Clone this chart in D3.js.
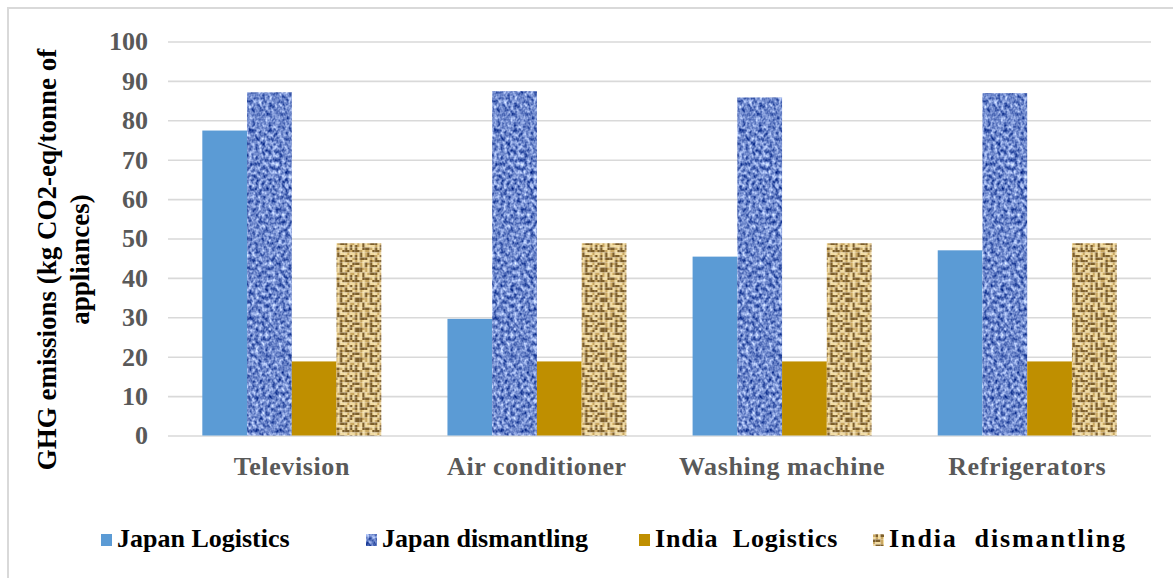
<!DOCTYPE html>
<html>
<head>
<meta charset="utf-8">
<script src="https://cdn.jsdelivr.net/npm/d3@7/dist/d3.min.js"></script>
<style>
  html, body { margin: 0; padding: 0; background: #fff; }
  svg { display: block; }
  svg text { font-family: 'Liberation Serif', 'Times New Roman', Times, serif; font-weight: bold; }
</style>
</head>
<body>
<svg id="chart" width="1173" height="578"></svg>
<script>
// GHG emissions per tonne of appliances, by appliance and stage
const categories = ["Television", "Air conditioner", "Washing machine", "Refrigerators"];
const seriesNames = ["Japan Logistics", "Japan dismantling", "India  Logistics", "India  dismantling"];
const japanLogistics   = [77.4, 29.6, 45.4, 47.0];
const japanDismantling = [87.1, 87.4, 85.8, 86.9];
const indiaLogistics   = [18.8, 18.8, 18.8, 18.8];
const indiaDismantling = [48.8, 48.8, 48.8, 48.8];
const yTicks = [0, 10, 20, 30, 40, 50, 60, 70, 80, 90, 100];
const yTitleLines = ["GHG emissions (kg CO2-eq/tonne of", "appliances)"];

const seriesValues = [japanLogistics, japanDismantling, indiaLogistics, indiaDismantling];
const rows = categories.map((c, i) => ({
  category: c,
  values: seriesNames.map((s, k) => ({ key: s, value: seriesValues[k][i] }))
}));

const svg = d3.select("#chart");
const W = 1173, H = 578;
const plot = { left: 168, right: 1151, top: 41.5, bottom: 435.5 };
const FONT = "'Liberation Serif', 'Times New Roman', Times, serif";

// outer chart frame
svg.append("rect")
  .attr("x", 8).attr("y", 8).attr("width", W + 20).attr("height", H + 20)
  .attr("fill", "#fff").attr("stroke", "#d9d9d9").attr("stroke-width", 2);

// ---- textures ----
const defs = svg.append("defs");

// mottled blue cloth: fractal noise mapped onto a dark-to-light blue ramp
const cloth = defs.append("filter").attr("id", "blueCloth")
  .attr("x", 0).attr("y", 0).attr("width", 1).attr("height", 1)
  .attr("color-interpolation-filters", "sRGB");
cloth.append("feTurbulence")
  .attr("type", "fractalNoise").attr("baseFrequency", "0.30 0.24")
  .attr("numOctaves", 2).attr("seed", 7).attr("result", "noise");
cloth.append("feColorMatrix").attr("in", "noise").attr("type", "matrix")
  .attr("values", [
    "1.25 0 0 0 -0.19",
    "1.15 0 0 0 -0.04",
    "0.80 0 0 0 0.40",
    "0 0 0 0 1"
  ].join(" ")).attr("result", "tone");
cloth.append("feGaussianBlur").attr("in", "tone").attr("stdDeviation", 0.45).attr("result", "soft");
cloth.append("feComposite").attr("in", "soft").attr("in2", "SourceGraphic").attr("operator", "in");

// burlap weave tile
function tilePattern(id, rowsStr, palette, cell) {
  const n = rowsStr.length, m = rowsStr[0].length;
  const p = defs.append("pattern")
    .attr("id", id).attr("patternUnits", "userSpaceOnUse")
    .attr("width", m * cell).attr("height", n * cell);
  rowsStr.forEach((r, yi) => {
    [...r].forEach((ch, xi) => {
      p.append("rect")
        .attr("x", xi * cell).attr("y", yi * cell)
        .attr("width", cell).attr("height", cell)
        .attr("fill", palette[ch]);
    });
  });
}
tilePattern("idTex", [
  "cbbbctcbctbc",
  "tctcbctbbbct",
  "cbtcbcccctcb",
  "cbccbbbtcbcb",
  "bbbtcttcbbbt",
  "ctcbctbccctc",
  "cbcbctbbbtcb",
  "tbcbbbctcbcc",
  "ctctcccbtbbb",
  "bbbtcbtbcctc",
  "tcctcbcbbbcb",
  "cbbbttcbcctb"
], { b: "#7d5e2c", t: "#caa862", c: "#f2dca2" }, 2.5);
defs.append("filter").attr("id", "soft")
  .append("feGaussianBlur").attr("stdDeviation", 0.6);

const fills = {
  "Japan Logistics": "#5b9bd5",
  "Japan dismantling": "#4a6fc0",
  "India  Logistics": "#bf8f00",
  "India  dismantling": "url(#idTex)"
};
const filters = {
  "Japan dismantling": "url(#blueCloth)",
  "India  dismantling": "url(#soft)"
};

// ---- scales ----
const x0 = d3.scaleBand().domain(categories)
  .range([plot.left, plot.right]).paddingInner(0.27).paddingOuter(0.14);
const x1 = d3.scaleBand().domain(seriesNames).range([0, x0.bandwidth()]);
const y = d3.scaleLinear().domain([0, 100]).range([plot.bottom, plot.top]);

// ---- grid + y axis ----
const yAxis = d3.axisLeft(y).tickValues(yTicks).tickSize(-(plot.right - plot.left)).tickPadding(20);
const gy = svg.append("g").attr("transform", `translate(${plot.left},0)`).call(yAxis)
  .attr("font-family", FONT);
gy.select(".domain").remove();
gy.selectAll(".tick line").attr("stroke", "#d9d9d9").attr("stroke-width", 1.6);
gy.selectAll(".tick text")
  .attr("font-weight", "bold").attr("font-size", 26).attr("fill", "#595959");

// ---- bars ----
const groups = svg.append("g").selectAll("g").data(rows).join("g")
  .attr("transform", d => `translate(${x0(d.category)},0)`);
groups.selectAll("rect").data(d => d.values).join("rect")
  .attr("x", d => x1(d.key))
  .attr("y", d => y(d.value))
  .attr("width", x1.bandwidth())
  .attr("height", d => y(0) - y(d.value))
  .attr("fill", d => fills[d.key])
  .attr("filter", d => filters[d.key] || null);

// ---- x axis labels ----
const xAxis = d3.axisBottom(x0).tickSize(0).tickPadding(21);
const gx = svg.append("g").attr("transform", `translate(0,${plot.bottom})`).call(xAxis)
  .attr("font-family", FONT);
gx.select(".domain").remove();
gx.selectAll(".tick text")
  .attr("font-weight", "bold").attr("font-size", 26).attr("fill", "#595959")
  .attr("letter-spacing", 0.6);

// ---- y axis title ----
const yTitle = svg.append("text")
  .attr("transform", `translate(56,${(plot.top + plot.bottom) / 2 + 21}) rotate(-90)`)
  .attr("font-family", FONT)
  .attr("text-anchor", "middle").attr("font-size", 27).attr("fill", "#000");
yTitle.selectAll("tspan").data(yTitleLines).join("tspan")
  .attr("x", 0).attr("dy", (d, i) => i === 0 ? 0 : 33).text(d => d);

// ---- legend ----
const legendX = [101, 366, 639, 873];
const legendSpacing = [0, 0, 0.8, 1.9];
const legend = svg.append("g").attr("font-family", FONT)
  .selectAll("g").data(seriesNames).join("g")
  .attr("transform", (d, i) => `translate(${legendX[i]},547)`);
legend.append("rect")
  .attr("x", 0).attr("y", -13).attr("width", 11).attr("height", 12)
  .attr("fill", d => fills[d]).attr("filter", d => filters[d] || null);
legend.append("text")
  .attr("x", 16).attr("y", 0).attr("font-size", 26).attr("fill", "#000")
  .attr("letter-spacing", (d, i) => legendSpacing[i])
  .style("white-space", "pre")
  .text(d => d);
</script>
</body>
</html>
